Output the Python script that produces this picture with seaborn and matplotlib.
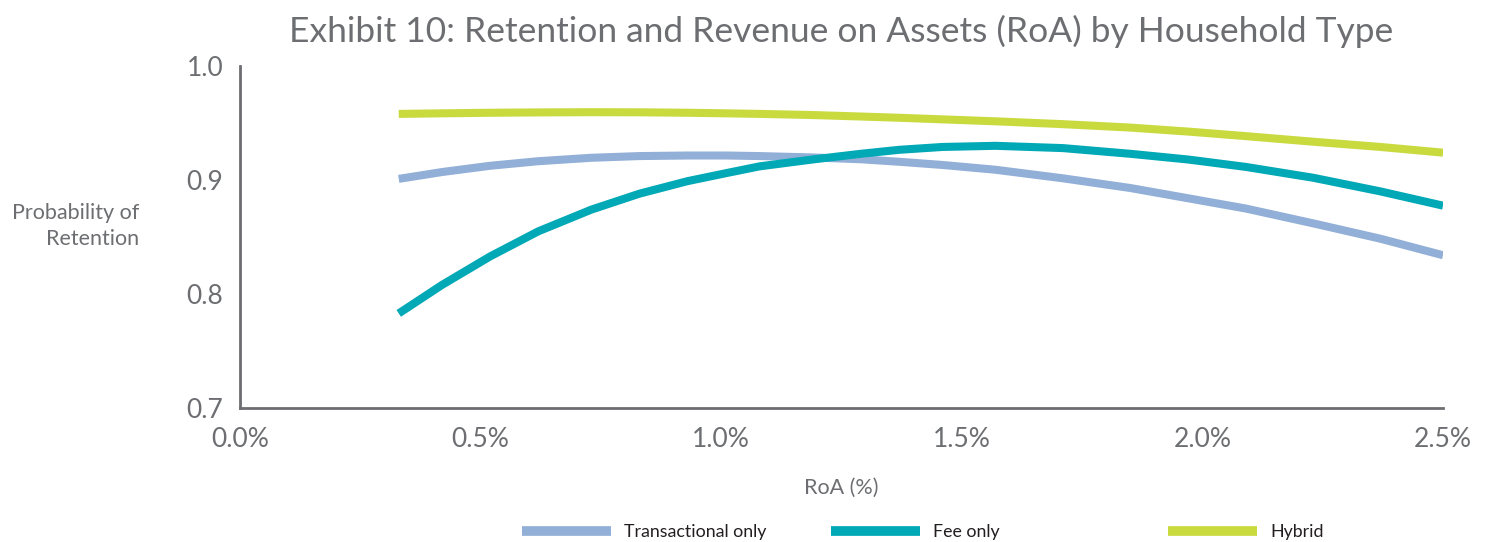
import matplotlib
matplotlib.use("Agg")
import matplotlib.pyplot as plt
import seaborn as sns
import pandas as pd
from matplotlib.ticker import FuncFormatter
from matplotlib.lines import Line2D

# ---- data ----
roa = [0.33, 0.42, 0.52, 0.62, 0.73, 0.83, 0.93, 1.01, 1.08, 1.19, 1.29,
       1.37, 1.46, 1.57, 1.71, 1.85, 1.97, 2.09, 2.23, 2.37, 2.5]
transactional = [0.901, 0.907, 0.9125, 0.9165, 0.9195, 0.921, 0.9215, 0.9215, 0.921, 0.9198, 0.9182,
                 0.9160, 0.9132, 0.909, 0.9015, 0.893, 0.884, 0.875, 0.862, 0.8485, 0.834]
fee_only = [0.783, 0.808, 0.833, 0.855, 0.874, 0.888, 0.899, 0.906, 0.912, 0.918, 0.923,
            0.9265, 0.929, 0.930, 0.928, 0.923, 0.918, 0.9115, 0.902, 0.890, 0.8775]
hybrid = [0.958, 0.9585, 0.959, 0.9593, 0.9595, 0.9594, 0.959, 0.9585, 0.958, 0.957, 0.9557,
          0.9546, 0.9532, 0.9515, 0.949, 0.946, 0.9425, 0.9385, 0.9336, 0.929, 0.924]
series_names = ["Transactional only", "Fee only", "Hybrid"]
x_ticks = [0.0, 0.5, 1.0, 1.5, 2.0, 2.5]
y_ticks = [0.7, 0.8, 0.9, 1.0]

df = pd.DataFrame({
    "RoA": roa * 3,
    "Retention": transactional + fee_only + hybrid,
    "Type": [series_names[0]] * len(roa) + [series_names[1]] * len(roa) + [series_names[2]] * len(roa),
})

sns.set_theme(style="white")
plt.rcParams["font.family"] = ["Lato", "DejaVu Sans"]

GRAY = "#6d6e71"
palette = {"Transactional only": "#92afd7", "Fee only": "#00a9b5", "Hybrid": "#c8da3e"}

fig = plt.figure(figsize=(14.94, 5.42), dpi=100)
ax = fig.add_axes([0.1606, 0.2472, 0.8053, 0.6310])

sns.lineplot(data=df, x="RoA", y="Retention", hue="Type", palette=palette,
             linewidth=5.8, ax=ax, legend=False)
for ln in ax.get_lines():
    ln.set_solid_capstyle("butt")
    ln.set_solid_joinstyle("round")

ax.set_xlim(0, 2.5)
ax.set_ylim(0.7, 1.0)
ax.set_xticks(x_ticks)
ax.set_yticks(y_ticks)
ax.xaxis.set_major_formatter(FuncFormatter(lambda v, p: f"{v:.1f}%"))
ax.yaxis.set_major_formatter(FuncFormatter(lambda v, p: f"{v:.1f}"))

for s in ["top", "right"]:
    ax.spines[s].set_visible(False)
for s in ["left", "bottom"]:
    ax.spines[s].set_color(GRAY)
    ax.spines[s].set_linewidth(2)

ax.tick_params(axis="both", which="major", direction="out", length=9, width=2,
               color=GRAY, labelcolor=GRAY, labelsize=19, pad=5)
ax.tick_params(axis="y", pad=3)

ax.set_xlabel("RoA (%)", fontsize=15.5, color=GRAY, labelpad=18)
ax.set_ylabel("")
fig.text(139 / 1494, 1 - 226 / 542, "Probability of\nRetention", ha="right", va="center",
         fontsize=15.5, color=GRAY, linespacing=1.35)

fig.text(841 / 1494, 1 - 31 / 542, "Exhibit 10: Retention and Revenue on Assets (RoA) by Household Type",
         ha="center", va="center", fontsize=25.5, color=GRAY)

# legends
leg_x = [522, 831, 1168]
for name, lx in zip(series_names, leg_x):
    h = Line2D([0], [0], color=palette[name], linewidth=7, solid_capstyle="butt")
    fig.legend(handles=[h], labels=[name], loc="center left",
               bbox_to_anchor=(lx / 1494, 1 - 532 / 542),
               frameon=False, fontsize=12.8, handlelength=5.0, handletextpad=0.75,
               borderpad=0, borderaxespad=0, labelcolor="#231f20")

fig.savefig("out.png", dpi=100)
